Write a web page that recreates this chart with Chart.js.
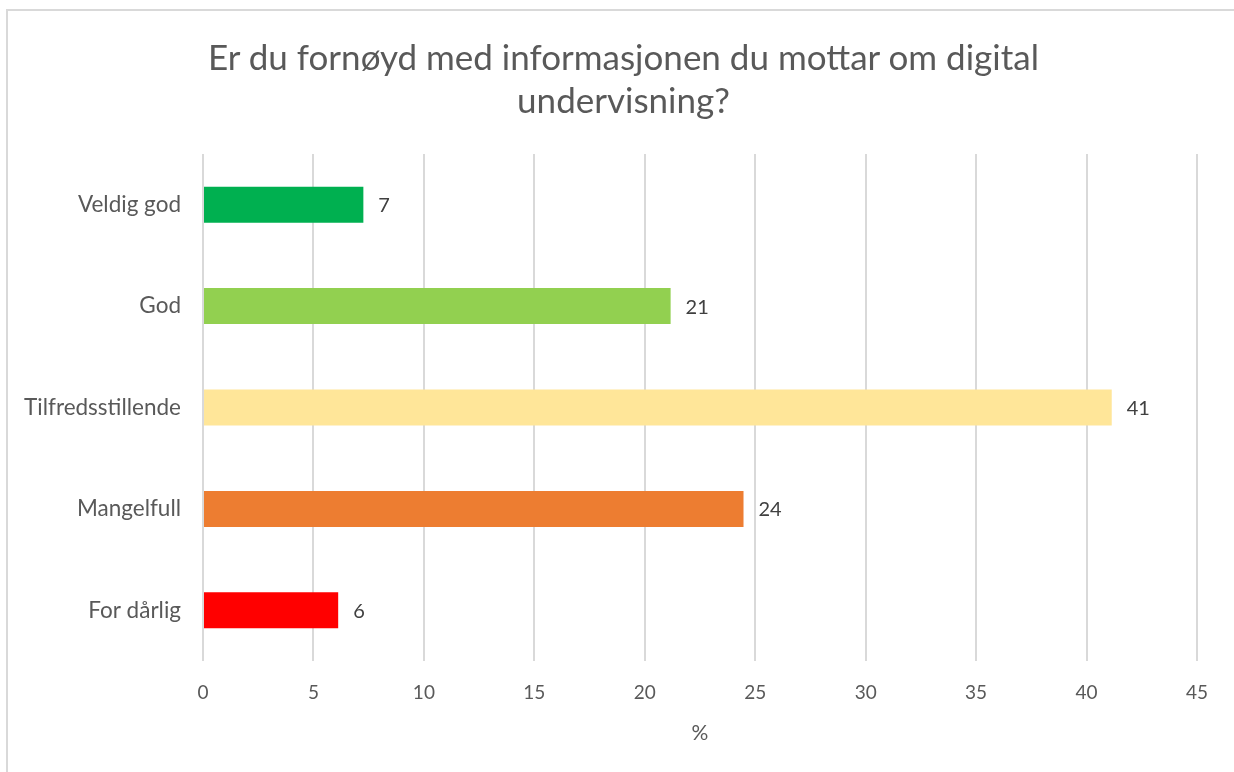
<!DOCTYPE html>
<html>
<head>
<meta charset="utf-8">
<script src="https://cdn.jsdelivr.net/npm/chart.js@4.4.0/dist/chart.umd.min.js"></script>
<style>
  html, body { margin: 0; padding: 0; background: #fff; }
  #frame { position: absolute; left: 6px; top: 9px; width: 1300px; height: 800px;
           border-top: 2px solid #d9d9d9; border-left: 2px solid #d9d9d9; }
  #wrap { position: absolute; left: 0; top: 0; width: 1234px; height: 772px; }
  #title { position: absolute; left: 0; top: 35px; width: 1247px; text-align: center;
           font: 35px/43px Lato, "Open Sans", sans-serif; color: #595959; }
</style>
</head>
<body>
<div id="frame"></div>
<div id="wrap"><canvas id="myChart" width="1234" height="772"></canvas></div>
<div id="title"></div>
<script>
// categories, top to bottom
const categories = ['Veldig god', 'God', 'Tilfredsstillende', 'Mangelfull', 'For dårlig'];
// percentages
const values = [7.26, 21.17, 41.14, 24.47, 6.12];
const barColors = ['#00B050', '#92D050', '#FFE699', '#ED7D31', '#FF0000'];
const titleLines = ['Er du fornøyd med informasjonen du mottar om digital', 'undervisning?'];
const axisTitle = '%';

document.getElementById('title').innerHTML = titleLines.join('<br>');

const ctx = document.getElementById('myChart').getContext('2d');
const fontFamily = 'Lato, "Open Sans", sans-serif';

// draws the rounded value to the right of each bar
const valueLabels = {
  id: 'valueLabels',
  afterDatasetsDraw(chart) {
    const c = chart.ctx;
    const meta = chart.getDatasetMeta(0);
    c.save();
    c.font = '20px ' + fontFamily;
    c.fillStyle = '#404040';
    c.textAlign = 'left';
    c.textBaseline = 'middle';
    meta.data.forEach((bar, i) => {
      c.fillText(String(Math.round(values[i])), bar.x + 15, bar.y + 1);
    });
    c.restore();
  }
};

new Chart(ctx, {
  type: 'bar',
  data: {
    labels: categories,
    datasets: [{
      data: values,
      backgroundColor: barColors,
      borderWidth: 0,
      categoryPercentage: 1,
      barPercentage: 0.355,
    }],
  },
  plugins: [valueLabels],
  options: {
    indexAxis: 'y',
    responsive: false,
    animation: false,
    layout: { padding: { left: 0, right: 37, top: 154, bottom: 0 } },
    plugins: {
      legend: { display: false },
      tooltip: { enabled: false },
      title: { display: false },
    },
    scales: {
      x: {
        min: 0,
        max: 45,
        ticks: { stepSize: 5, color: '#595959', font: { family: fontFamily, size: 19 }, padding: 20 },
        grid: { color: '#d9d9d9', lineWidth: 2, drawTicks: false },
        border: { display: false },
        title: { display: true, text: axisTitle, color: '#595959', font: { family: fontFamily, size: 21 }, padding: { top: 0, bottom: 26 } },
        afterFit(scale) { scale.height = 111; },
      },
      y: {
        ticks: { color: '#595959', font: { family: fontFamily, size: 22.5 }, padding: 22 },
        grid: { display: false, drawTicks: false },
        border: { display: false },
        afterFit(scale) { scale.width = 203; },
      },
    },
  },
});
</script>
</body>
</html>
